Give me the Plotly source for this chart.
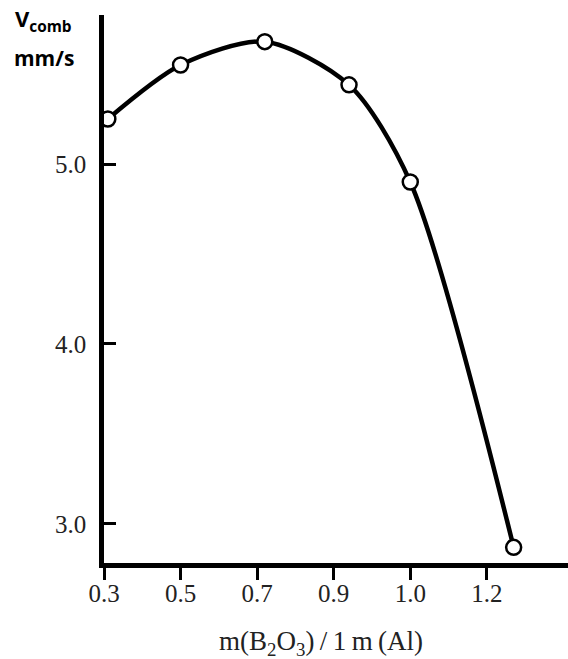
import numpy as np
import plotly.graph_objects as go

# Data
ratio = [0.31, 0.50, 0.72, 0.92, 1.00, 1.27]          # m(B2O3)/1m(Al)
v_comb = [5.25, 5.55, 5.68, 5.44, 4.90, 2.87]          # burning rate, mm/s

x_tick_labels = ["0.3", "0.5", "0.7", "0.9", "1.0", "1.2"]
x_tick_values = [0.3, 0.5, 0.7, 0.9, 1.0, 1.2]
y_tick_values = [3.0, 4.0, 5.0]
y_tick_labels = ["3.0", "4.0", "5.0"]

# The original axis is ordinal-like: labelled ticks are equally spaced.
idx = np.arange(len(x_tick_values), dtype=float)


def to_axis(v):
    v = np.asarray(v, dtype=float)
    out = np.interp(v, x_tick_values, idx)
    hi = v > x_tick_values[-1]
    slope = (idx[-1] - idx[-2]) / (x_tick_values[-1] - x_tick_values[-2])
    out[hi] = idx[-1] + (v[hi] - x_tick_values[-1]) * slope
    return out


xs = to_axis(ratio)

fig = go.Figure()
fig.add_trace(go.Scatter(
    x=xs, y=v_comb,
    mode="lines+markers",
    line=dict(color="black", width=4.5, shape="spline", smoothing=0.8),
    marker=dict(size=15, color="white", line=dict(color="black", width=2.5)),
    cliponaxis=False,
    showlegend=False,
))

tick_font = dict(family="Liberation Serif, Times New Roman, serif", size=25, color="#222")

fig.update_layout(
    width=568, height=659,
    margin=dict(l=104, r=0, t=15, b=96),
    paper_bgcolor="white", plot_bgcolor="white",
    xaxis=dict(
        range=[0, 6.06], tickmode="array", tickvals=idx, ticktext=x_tick_labels,
        showline=True, linecolor="black", linewidth=4.5,
        ticks="outside", ticklen=12, tickwidth=3, tickcolor="black",
        showgrid=False, zeroline=False, tickfont=tick_font, ticklabelstandoff=-8,
    ),
    yaxis=dict(
        range=[2.783, 5.828], tickmode="array", tickvals=y_tick_values, ticktext=y_tick_labels,
        showline=True, linecolor="black", linewidth=4.5,
        ticks="inside", ticklen=12, tickwidth=3, tickcolor="black",
        showgrid=False, zeroline=False, tickfont=tick_font, ticklabelstandoff=8,
    ),
    annotations=[
        dict(text="<b>V<sub>comb</sub></b>", xref="paper", yref="paper",
             x=-0.196, y=0.99, xanchor="left", yanchor="middle", showarrow=False,
             font=dict(family="Open Sans, DejaVu Sans, sans-serif", size=22, color="black")),
        dict(text="<b>mm/s</b>", xref="paper", yref="paper",
             x=-0.198, y=0.921, xanchor="left", yanchor="middle", showarrow=False,
             font=dict(family="Open Sans, DejaVu Sans, sans-serif", size=21, color="black")),
        dict(text="m(B<sub>2</sub>O<sub>3</sub>)\u2009/\u20091\u2009m\u2009(Al)", xref="paper", yref="paper",
             x=0.468, y=-0.146, xanchor="center", yanchor="middle", showarrow=False,
             font=dict(family="Liberation Serif, Times New Roman, serif", size=27, color="#222")),
    ],
)

fig.write_html("out.html", config={"displayModeBar": False},
               post_script="document.body.style.margin='0';")
